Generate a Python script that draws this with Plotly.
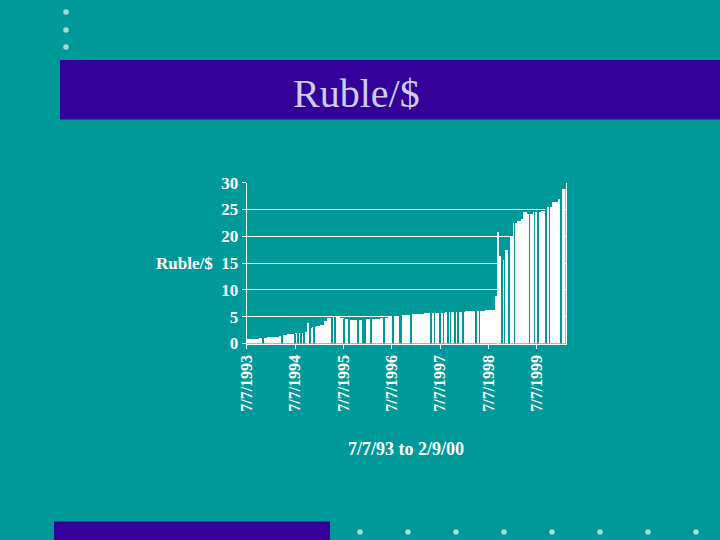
import pandas as pd
import numpy as np
import plotly.graph_objects as go

# ---------------- data ----------------
period_start = [
    "1993-07-07", "1993-08-07", "1993-09-07", "1993-10-07", "1993-11-07", "1993-12-07",
    "1994-01-07", "1994-02-07", "1994-03-07", "1994-04-07", "1994-05-07", "1994-06-07",
    "1994-07-07", "1994-08-07", "1994-09-07", "1994-10-07", "1994-11-07", "1994-12-07",
    "1995-01-07", "1995-02-07", "1995-03-07", "1995-04-07", "1995-05-07", "1995-06-07",
    "1995-07-07", "1995-08-07", "1995-09-07", "1995-10-07", "1995-11-07", "1995-12-07",
    "1996-01-07", "1996-02-07", "1996-03-07", "1996-04-07", "1996-05-07", "1996-06-07",
    "1996-07-07", "1996-08-07", "1996-09-07", "1996-10-07", "1996-11-07", "1996-12-07",
    "1997-01-07", "1997-02-07", "1997-03-07", "1997-04-07", "1997-05-07", "1997-06-07",
    "1997-07-07", "1997-08-07", "1997-09-07", "1997-10-07", "1997-11-07", "1997-12-07",
    "1998-01-07", "1998-02-07", "1998-03-07", "1998-04-07", "1998-05-07", "1998-06-07",
    "1998-07-07", "1998-08-07", "1998-08-24", "1998-09-14", "1998-10-16", "1998-11-07",
    "1998-12-07", "1999-01-07", "1999-02-07", "1999-03-07", "1999-03-25", "1999-04-20",
    "1999-06-07", "1999-07-07", "1999-08-07", "1999-09-07", "1999-10-25", "1999-12-15",
    "2000-01-10",
]
ruble_per_usd = [
    0.92, 0.93, 0.95, 1.00, 1.12, 1.18,
    1.22, 1.30, 1.50, 1.65, 1.78, 1.90,
    2.02, 2.08, 2.20, 3.00, 3.05, 3.30,
    3.60, 4.20, 4.80, 4.95, 4.95, 4.85,
    4.55, 4.50, 4.50, 4.50, 4.52, 4.55,
    4.60, 4.65, 4.70, 4.75, 4.85, 5.00,
    5.10, 5.20, 5.35, 5.40, 5.45, 5.50,
    5.55, 5.60, 5.70, 5.72, 5.75, 5.78,
    5.80, 5.85, 5.88, 5.90, 5.92, 5.95,
    6.05, 6.10, 6.15, 6.18, 6.20, 6.22,
    6.25, 6.30, 9.00, 16.30, 15.60, 17.50,
    20.00, 22.50, 23.00, 23.20, 24.60, 24.30,
    24.50, 24.60, 24.70, 25.60, 26.40, 27.00,
    28.80,
]
series_end = "2000-02-09"

spike_dates = ["1994-10-11", "1998-09-14"]
spike_rate = [3.90, 20.90]

# days with no quote (show as thin gaps in the white area)
missing_days = [
    "1993-11-07", "1994-03-28", "1994-07-04", "1994-07-30", "1994-08-19", "1994-09-08",
    "1994-10-25", "1994-11-28", "1995-04-11", "1995-05-03", "1995-07-12", "1995-08-19",
    "1995-10-21", "1995-11-28", "1995-12-16", "1996-01-30", "1996-05-05", "1996-07-12",
    "1996-09-01", "1996-09-14", "1996-11-28", "1997-04-28", "1997-05-23", "1997-07-05",
    "1997-07-30", "1997-09-01", "1997-09-21", "1997-10-26", "1997-11-15", "1997-12-23",
    "1998-04-03", "1998-04-28", "1998-10-14", "1998-11-03", "1998-12-10", "1999-01-18",
    "1999-05-11", "1999-06-18", "1999-07-13", "1999-09-14", "1999-10-09", "2000-01-05",
]

year_ticks = ["1993-07-07", "1994-07-07", "1995-07-07", "1996-07-07",
              "1997-07-07", "1998-07-07", "1999-07-07"]
year_labels = ["7/7/1993", "7/7/1994", "7/7/1995", "7/7/1996",
               "7/7/1997", "7/7/1998", "7/7/1999"]

y_ticks = [0, 5, 10, 15, 20, 25, 30]

# ---------------- styling ----------------
TEAL = "#009999"
PURPLE = "#330099"
DOT = "#A8D8D8"
SERIF = "Liberation Serif, Times New Roman, serif"
W, H = 720, 540
DAY_MS = 86400000

starts = pd.to_datetime(period_start)
ends = list(starts[1:]) + [pd.Timestamp(series_end)]
widths = [(e - s).total_seconds() * 1000 for s, e in zip(starts, ends)]

gap_ts = pd.to_datetime(missing_days)
idx = np.searchsorted(starts.values, gap_ts.values, side="right") - 1
gap_height = [ruble_per_usd[i] for i in idx]

fig = go.Figure()
fig.add_trace(go.Bar(
    x=starts, y=ruble_per_usd, width=widths, offset=0,
    marker=dict(color="white", line=dict(width=0)),
    hoverinfo="skip", showlegend=False,
))
fig.add_trace(go.Bar(
    x=pd.to_datetime(spike_dates), y=spike_rate, width=[7 * DAY_MS] * len(spike_dates),
    marker=dict(color="white", line=dict(width=0)),
    hoverinfo="skip", showlegend=False,
))
fig.add_trace(go.Bar(
    x=gap_ts, y=gap_height, width=[6.5 * DAY_MS] * len(gap_ts),
    marker=dict(color=TEAL, line=dict(width=0)),
    hoverinfo="skip", showlegend=False,
))


def px(x):
    return x / W


def py(y):
    return 1 - y / H


shapes = []
# title banner and footer bar
shapes.append(dict(type="rect", xref="paper", yref="paper", x0=px(60), x1=px(720),
                   y0=py(119.5), y1=py(60), fillcolor=PURPLE, line=dict(width=0), layer="below"))
shapes.append(dict(type="rect", xref="paper", yref="paper", x0=px(54), x1=px(330),
                   y0=py(540), y1=py(521.5), fillcolor=PURPLE, line=dict(width=0), layer="below"))
# decorative bullets
dots = [(66, 12), (66, 30), (66, 47)] + [(360 + 48 * i, 532) for i in range(8)]
for cx, cy in dots:
    shapes.append(dict(type="circle", xref="paper", yref="paper",
                       x0=px(cx - 2.8), x1=px(cx + 2.8), y0=py(cy + 2.8), y1=py(cy - 2.8),
                       fillcolor=DOT, line=dict(width=0), layer="below"))

annotations = [
    dict(text="Ruble/$", xref="paper", yref="paper", x=px(356), y=py(93),
         xanchor="center", yanchor="middle", showarrow=False,
         font=dict(family=SERIF, size=40, color="#CCCCEE")),
    dict(text="Ruble/$", xref="paper", yref="y", x=px(215), y=15,
         xanchor="right", yanchor="middle", showarrow=False,
         font=dict(family=SERIF, size=17, color="white", weight="bold")),
    dict(text="7/7/93 to 2/9/00", xref="paper", yref="paper", x=px(406), y=py(449),
         xanchor="center", yanchor="middle", showarrow=False,
         font=dict(family=SERIF, size=18, color="white", weight="bold")),
]

fig.update_layout(
    template="none",
    width=W, height=H, autosize=False,
    margin=dict(l=0, r=0, t=0, b=0, pad=0, autoexpand=False),
    paper_bgcolor=TEAL, plot_bgcolor=TEAL,
    barmode="overlay", bargap=0, bargroupgap=0,
    shapes=shapes, annotations=annotations,
    xaxis=dict(
        type="date", range=[period_start[0], series_end],
        domain=[px(246.7), px(565.5)], automargin=False,
        tickmode="array", tickvals=year_ticks, ticktext=year_labels, tickangle=-90,
        tickfont=dict(family=SERIF, size=16, color="white", weight="bold"),
        showline=True, linecolor="white", linewidth=1,
        ticks="outside", ticklen=4, tickcolor="white", tickwidth=1,
        showgrid=False, zeroline=False, fixedrange=True,
    ),
    yaxis=dict(
        range=[0, 30], tickmode="array", tickvals=y_ticks,
        domain=[1 - 343.5 / H, 1 - 182.7 / H], automargin=False,
        tickfont=dict(family=SERIF, size=17, color="white", weight="bold"),
        showgrid=True, gridcolor="white", gridwidth=1,
        showline=True, linecolor="white", linewidth=1, mirror=True,
        ticks="outside", ticklen=4, tickcolor="white", tickwidth=1,
        zeroline=False, fixedrange=True,
    ),
)

fig.write_html(
    "out.html",
    config={"displayModeBar": False, "responsive": False},
    post_script="document.body.style.margin='0';document.body.style.padding='0';"
                "document.body.style.overflow='hidden';",
)
